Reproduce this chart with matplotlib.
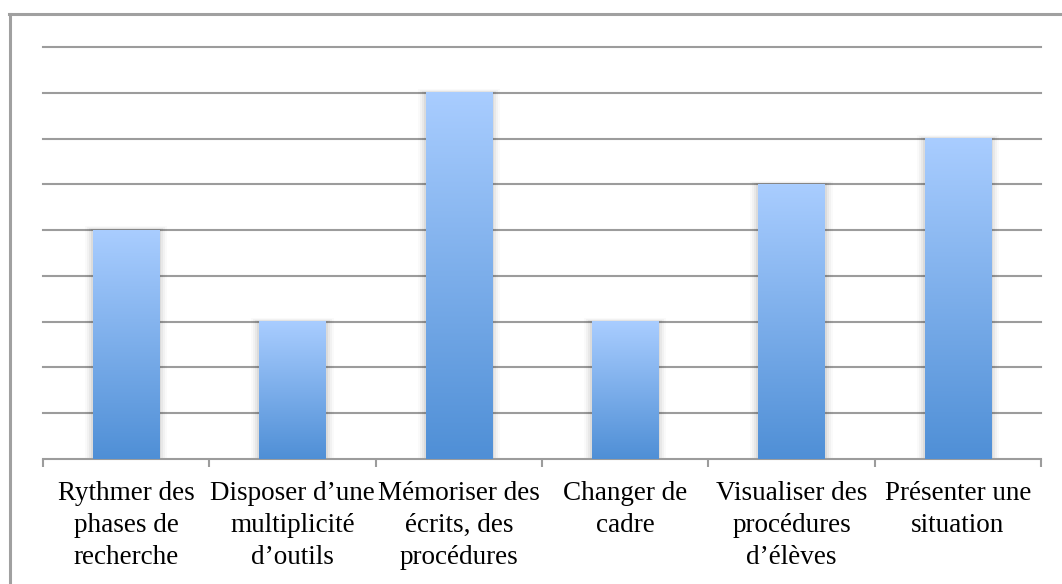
import numpy as np
import matplotlib.pyplot as plt
from matplotlib.colors import LinearSegmentedColormap
from matplotlib.patches import Rectangle
from matplotlib.lines import Line2D

categories = ['Rythmer des\nphases de\nrecherche',
              'Disposer d’une\nmultiplicité\nd’outils',
              'Mémoriser des\nécrits, des\nprocédures',
              'Changer de\ncadre',
              'Visualiser des\nprocédures\nd’élèves',
              'Présenter une\nsituation']
values = [5, 3, 8, 3, 6, 7]

plt.rcParams['font.family'] = 'serif'
plt.rcParams['font.serif'] = ['Liberation Serif', 'Times New Roman', 'DejaVu Serif']

fig = plt.figure(figsize=(10.62, 5.84), dpi=100)
ax = fig.add_axes([43 / 1062, 1 - 459 / 584, 998 / 1062, 412 / 584])

grid_c = '#9c9c9c'
cmap = LinearSegmentedColormap.from_list('bar', ['#4f8fd6', '#a9cdff'])
grad = np.linspace(0, 1, 256).reshape(-1, 1)
w = 0.4
x = np.arange(len(values))

for i, v in zip(x, values):
    # soft shadow around each bar
    for k, a in enumerate([0.05, 0.04, 0.03, 0.02]):
        d = 0.012 * (k + 1)
        ax.add_patch(Rectangle((i - w / 2 - d, 0), w + 2 * d, v + 0.02 * (k + 1),
                               color='black', alpha=a, lw=0, zorder=2))
    ax.imshow(grad, cmap=cmap, origin='lower', aspect='auto',
              extent=(i - w / 2, i + w / 2, 0, v), zorder=3)

ax.set_xlim(-0.5, len(values) - 0.5)
ax.set_ylim(0, 9)
ax.set_yticks(np.arange(1, 10))
ax.yaxis.grid(True, color=grid_c, lw=1.5)
for gl in ax.get_ygridlines():
    gl.set_clip_on(False)
ax.set_axisbelow(True)
ax.tick_params(axis='y', left=False, labelleft=False)

ax.set_xticks(np.arange(-0.5, len(values)))
ax.set_xticklabels([])
ax.set_xticks(x, minor=True)
ax.set_xticklabels(categories, minor=True, fontsize=19.5, linespacing=1.36,
                   va='top', ha='center')
ax.tick_params(axis='x', which='major', length=6, width=1.5, color=grid_c, direction='out')
ax.tick_params(axis='x', which='minor', length=0, pad=16)

for s in ['top', 'right', 'left']:
    ax.spines[s].set_visible(False)
ax.spines['bottom'].set_color(grid_c)
ax.spines['bottom'].set_linewidth(1.5)

# outer frame (left and top edges)
fig.add_artist(Line2D([9.5 / 1062, 9.5 / 1062], [0, 1 - 14 / 584], color='#a0a0a0', lw=2.2,
                      transform=fig.transFigure))
fig.add_artist(Line2D([8.5 / 1062, 1], [1 - 14 / 584, 1 - 14 / 584], color='#a0a0a0', lw=2.2,
                      transform=fig.transFigure))

fig.savefig('out.png', dpi=100)
